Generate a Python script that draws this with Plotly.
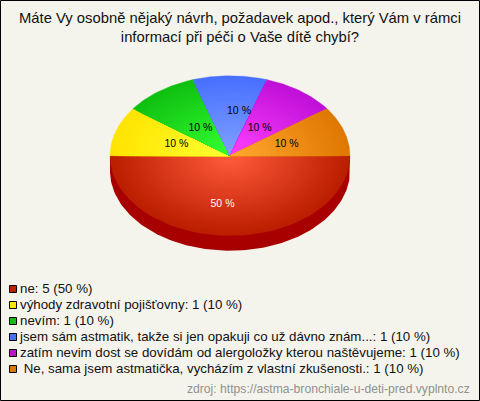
import math
import plotly.graph_objects as go

TITLE = "Máte Vy osobně nějaký návrh, požadavek apod., který Vám v rámci<br>informací při péči o Vaše dítě chybí?"
SOURCE = "zdroj: https://astma-bronchiale-u-deti-pred.vyplnto.cz"

categories = [
    "ne",
    "výhody zdravotní pojišťovny",
    "nevím",
    "jsem sám astmatik, takže si jen opakuji co už dávno znám...",
    "zatím nevim dost se dovídám od alergoložky kterou naštěvujeme",
    " Ne, sama jsem astmatička, vycházím z vlastní zkušenosti.",
]
counts = [5, 1, 1, 1, 1, 1]
percents = [50, 10, 10, 10, 10, 10]

swatch_colors = ["#c02000", "#ffe800", "#10c010", "#4870ff", "#c010d0", "#e07800"]
center_colors = ["#ff5a3c", "#ffff33", "#33ff33", "#80a0ff", "#ff40ff", "#ffa830"]
edge_colors = ["#bc1e00", "#ffe400", "#10c010", "#4870ff", "#c010d8", "#e07800"]
rim_color = "#a80000"
bg_color = "#f5f4ec"

CX, CY, RX, RY, DEPTH = 230, 155.7, 120, 80, 15
LAYERS = 30
label_colors = ["white", "black", "black", "black", "black", "black"]
label_frac = [0.61, 0.47, 0.42, 0.55, 0.42, 0.47]
label_nudge = [-7.5, 0, 0, 9, 0, 3]


def hex_rgb(c):
    return [int(c[i:i + 2], 16) for i in (1, 3, 5)]


def mix(a, b, t):
    ca, cb = hex_rgb(a), hex_rgb(b)
    return "rgb(%d,%d,%d)" % tuple(round(ca[i] + (cb[i] - ca[i]) * t) for i in range(3))


def arc(a0, a1, r, n=60, dy=0):
    steps = [a0 + (a1 - a0) * i / n for i in range(n + 1)]
    return (
        [CX + RX * r * math.cos(t) for t in steps],
        [CY + dy + RY * r * math.sin(t) for t in steps],
    )


fig = go.Figure()

# rim
xs, ys = arc(0, math.pi, 1, 120, DEPTH)
fig.add_scatter(
    x=[CX + RX] + xs + [CX - RX], y=[CY] + ys + [CY],
    mode="lines", fill="toself", fillcolor=rim_color,
    line=dict(width=0, color=rim_color), hoverinfo="skip", showlegend=False,
)

total = sum(counts)
start = 0.0
lab_x, lab_y, lab_t = [], [], []
for i, c in enumerate(counts):
    end = start + 2 * math.pi * c / total
    for k in range(LAYERS):
        r = 1 - k / LAYERS
        col = mix(edge_colors[i], center_colors[i], k / (LAYERS - 1))
        xs, ys = arc(start, end, r)
        fig.add_scatter(
            x=[CX] + xs + [CX], y=[CY] + ys + [CY],
            mode="lines", fill="toself", fillcolor=col,
            line=dict(width=0.3, color=col), hoverinfo="skip", showlegend=False,
        )
    mid = (start + end) / 2
    lab_x.append(CX + RX * label_frac[i] * math.cos(mid) + label_nudge[i])
    lab_y.append(CY + RY * label_frac[i] * math.sin(mid))
    lab_t.append(f"{percents[i]} %")
    start = end

fig.add_scatter(
    x=lab_x, y=lab_y, text=lab_t, mode="text", textposition="middle center",
    textfont=dict(family="Liberation Sans", size=10.5, color=label_colors),
    hoverinfo="skip", showlegend=False,
)

# legend
legend_y = [289 + 16 * i for i in range(len(categories))]
fig.add_scatter(
    x=[13] * len(categories), y=legend_y, mode="markers",
    marker=dict(symbol="square", size=7, color=swatch_colors, line=dict(width=1, color="black")),
    hoverinfo="skip", showlegend=False,
)
fig.add_scatter(
    x=[20] * len(categories), y=[v + 0.5 for v in legend_y], mode="text", textposition="middle right",
    text=[f"{a}: {b} ({p} %)".replace(" ", "\u00a0") for a, b, p in zip(categories, counts, percents)],
    textfont=dict(family="Liberation Sans", size=13.3, color="#111111"),
    hoverinfo="skip", showlegend=False,
)

fig.add_annotation(
    x=472, y=389, xref="x", yref="y", text=SOURCE, showarrow=False, xanchor="right",
    font=dict(family="Liberation Sans", size=12.15, color="#909090"),
)
fig.add_annotation(
    x=240, y=27, xref="x", yref="y", text=TITLE, showarrow=False,
    font=dict(family="Liberation Sans", size=14.8, color="#111111"),
)
fig.add_shape(type="rect", x0=0.5, y0=0.5, x1=479.5, y1=400.5, line=dict(color="black", width=1))

fig.update_layout(
    width=480, height=401, margin=dict(l=0, r=0, t=0, b=0),
    paper_bgcolor=bg_color, plot_bgcolor=bg_color,
    xaxis=dict(range=[0, 480], visible=False, fixedrange=True),
    yaxis=dict(range=[401, 0], visible=False, fixedrange=True),
    showlegend=False,
)
fig.write_html(
    "out.html",
    config={"displayModeBar": False},
    post_script="document.body.style.margin='0';document.body.style.overflow='hidden';",
)
